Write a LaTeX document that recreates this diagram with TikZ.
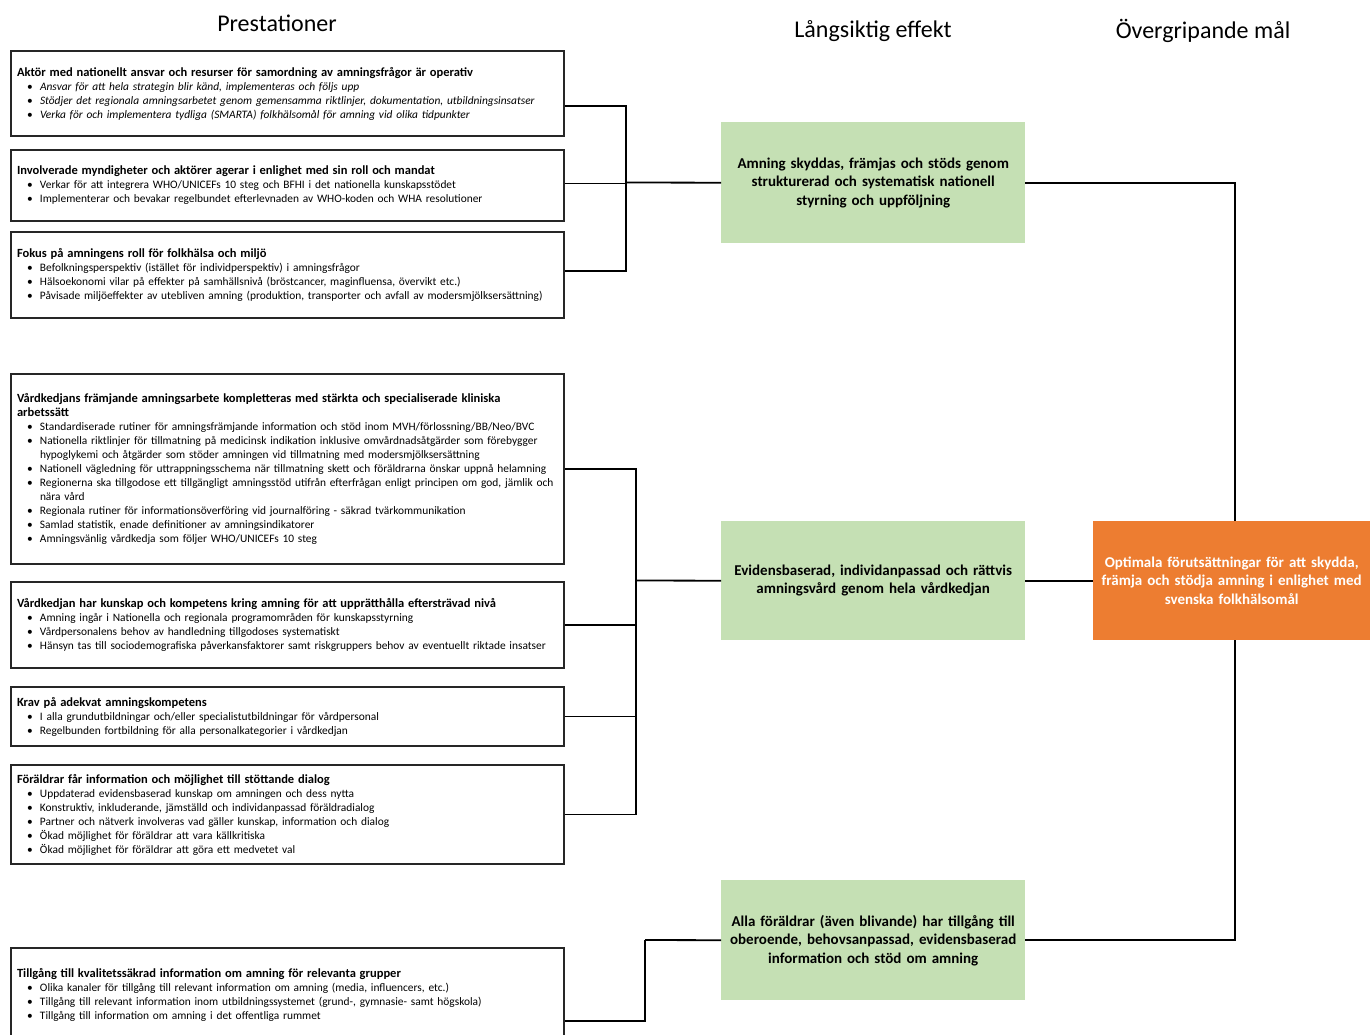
\documentclass[tikz,border=0pt]{standalone}
\usepackage{fontspec}
\setmainfont{Carlito}
\definecolor{greenbox}{HTML}{C5E0B4}
\definecolor{orangebox}{HTML}{ED7D31}
\newcommand{\bl}{\hspace*{10pt}\makebox[13pt][l]{\textbullet}}
\newcommand{\cont}{\hspace*{23pt}}
\newcommand{\ttl}[1]{{\fontsize{12.5}{14}\selectfont\bfseries #1}}
\tikzset{
  prest/.style={draw=black!85, line width=2pt, anchor=north west, minimum width=553pt,
    text width=541pt, inner xsep=6pt, inner ysep=0pt, align=left,
    font={\fontsize{11.4}{14}\selectfont}},
  effect/.style={fill=greenbox, anchor=north west, minimum width=304pt, text width=300pt,
    align=center, inner sep=0pt, font={\fontsize{15}{18.5}\selectfont\bfseries}},
  goal/.style={fill=orangebox, anchor=north west, minimum width=277pt, text width=275pt,
    align=center, inner sep=0pt, text=white, font={\fontsize{15}{18.5}\selectfont\bfseries}},
  header/.style={font={\fontsize{24}{28}\selectfont}, inner sep=0pt},
  conn/.style={line width=1.8pt, draw=black}
}
\begin{document}
\begin{tikzpicture}[x=1pt, y=-1pt]
\useasboundingbox (0,0) rectangle (1370,1034);

\node[header] (h1) at (277,23) {Prestationer};
\node[header] (h2) at (873,31) {Långsiktig effekt};
\node[header] (h3) at (1203,31) {Övergripande mål};

\node[prest, minimum height=85pt] (b1) at (10,50) {\ttl{Aktör med nationellt ansvar och resurser för samordning av amningsfrågor är operativ}\\
\bl\textit{Ansvar för att hela strategin blir känd, implementeras och följs upp}\\
\bl\textit{Stödjer det regionala amningsarbetet genom gemensamma riktlinjer, dokumentation, utbildningsinsatser}\\
\bl\textit{Verka för och implementera tydliga (SMARTA) folkhälsomål för amning vid olika tidpunkter}};

\node[prest, minimum height=71pt] (b2) at (10,149) {\ttl{Involverade myndigheter och aktörer agerar i enlighet med sin roll och mandat}\\
\bl Verkar för att integrera WHO/UNICEFs 10 steg och BFHI i det nationella kunskapsstödet\\
\bl Implementerar och bevakar regelbundet efterlevnaden av WHO-koden och WHA resolutioner};

\node[prest, minimum height=86pt] (b3) at (10,231) {\ttl{Fokus på amningens roll för folkhälsa och miljö}\\
\bl Befolkningsperspektiv (istället för individperspektiv) i amningsfrågor\\
\bl Hälsoekonomi vilar på effekter på samhällsnivå (bröstcancer, maginfluensa, övervikt etc.)\\
\bl Påvisade miljöeffekter av utebliven amning (produktion, transporter och avfall av modersmjölksersättning)};

\node[prest, minimum height=190pt] (b4) at (10,373) {\ttl{Vårdkedjans främjande amningsarbete kompletteras med stärkta och specialiserade kliniska}\\
\ttl{arbetssätt}\\
\bl Standardiserade rutiner för amningsfrämjande information och stöd inom MVH/förlossning/BB/Neo/BVC\\
\bl Nationella riktlinjer för tillmatning på medicinsk indikation inklusive omvårdnadsåtgärder som förebygger\\
\cont hypoglykemi och åtgärder som stöder amningen vid tillmatning med modersmjölksersättning\\
\bl Nationell vägledning för uttrappningsschema när tillmatning skett och föräldrarna önskar uppnå helamning\\
\bl Regionerna ska tillgodose ett tillgängligt amningsstöd utifrån efterfrågan enligt principen om god, jämlik och\\
\cont nära vård\\
\bl Regionala rutiner för informationsöverföring vid journalföring - säkrad tvärkommunikation\\
\bl Samlad statistik, enade definitioner av amningsindikatorer\\
\bl Amningsvänlig vårdkedja som följer WHO/UNICEFs 10 steg};

\node[prest, minimum height=86pt] (b5) at (10,581) {\ttl{Vårdkedjan har kunskap och kompetens kring amning för att upprätthålla eftersträvad nivå}\\
\bl Amning ingår i Nationella och regionala programområden för kunskapsstyrning\\
\bl Vårdpersonalens behov av handledning tillgodoses systematiskt\\
\bl Hänsyn tas till sociodemografiska påverkansfaktorer samt riskgruppers behov av eventuellt riktade insatser};

\node[prest, minimum height=59pt] (b6) at (10,686) {\ttl{Krav på adekvat amningskompetens}\\
\bl I alla grundutbildningar och/eller specialistutbildningar för vårdpersonal\\
\bl Regelbunden fortbildning för alla personalkategorier i vårdkedjan};

\node[prest, minimum height=99pt] (b7) at (10,764) {\ttl{Föräldrar får information och möjlighet till stöttande dialog}\\
\bl Uppdaterad evidensbaserad kunskap om amningen och dess nytta\\
\bl Konstruktiv, inkluderande, jämställd och individanpassad föräldradialog\\
\bl Partner och nätverk involveras vad gäller kunskap, information och dialog\\
\bl Ökad möjlighet för föräldrar att vara källkritiska\\
\bl Ökad möjlighet för föräldrar att göra ett medvetet val};

\node[prest, minimum height=93pt] (b8) at (10,947) {\ttl{Tillgång till kvalitetssäkrad information om amning för relevanta grupper}\\
\bl Olika kanaler för tillgång till relevant information om amning (media, influencers, etc.)\\
\bl Tillgång till relevant information inom utbildningssystemet (grund-, gymnasie- samt högskola)\\
\bl Tillgång till information om amning i det offentliga rummet};

\node[effect, minimum height=121pt] (g1) at (721,122) {Amning skyddas, främjas och stöds genom\\ strukturerad och systematisk nationell\\ styrning och uppföljning};
\node[effect, minimum height=119pt] (g2) at (721,521) {Evidensbaserad, individanpassad och rättvis\\ amningsvård genom hela vårdkedjan};
\node[effect, minimum height=120pt] (g3) at (721,880) {Alla föräldrar (även blivande) har tillgång till\\ oberoende, behovsanpassad, evidensbaserad\\ information och stöd om amning};

\node[goal, minimum height=119pt] (o) at (1093,521) {Optimala förutsättningar för att skydda,\\ främja och stödja amning i enlighet med\\ svenska folkhälsomål};

\coordinate (j1) at (626,182.5);
\coordinate (j2) at (636,580.5);
\coordinate (j3) at (645,940);

\draw[conn] ([yshift=-12.5pt]b1.east) -| (j1);
\draw[conn] ([yshift=2pt]b2.east) -| (j1);
\draw[conn] ([yshift=4pt]b3.east) -| (j1);
\draw[conn] (j1) -- (g1.west);

\draw[conn] (b4.east) -| (j2);
\draw[conn] (b5.east) -| (j2);
\draw[conn] (b6.east) -| (j2);
\draw[conn] (b7.east) -| (j2);
\draw[conn] (j2) -- (g2.west);

\draw[conn] ([yshift=-26.5pt]b8.east) -| (j3);
\draw[conn] (j3) -- (g3.west);

\draw[conn] (g1.east) -| ([xshift=3pt]o.north);
\draw[conn] (g2.east) -- (o.west);
\draw[conn] (g3.east) -| ([xshift=3pt]o.south);
\end{tikzpicture}
\end{document}
